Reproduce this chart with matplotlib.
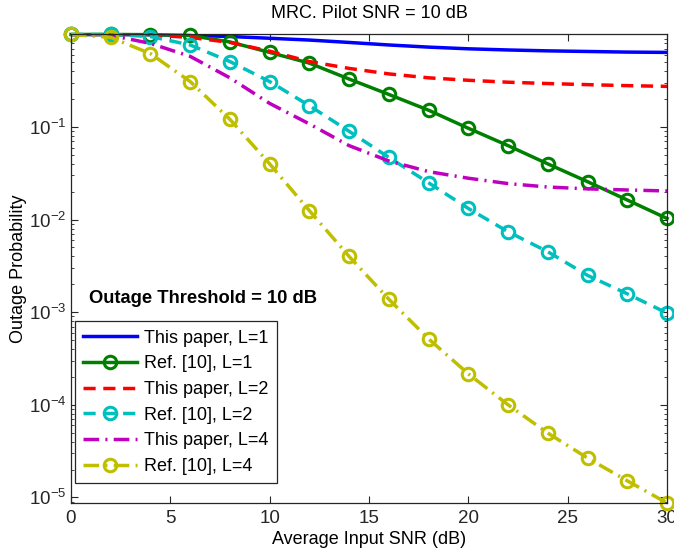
import matplotlib
matplotlib.use("Agg")
import matplotlib.pyplot as plt
import numpy as np
from matplotlib.ticker import FixedLocator, LogLocator, NullFormatter

plt.rcParams['font.family'] = ['Liberation Sans', 'DejaVu Sans']
plt.rcParams['mathtext.default'] = 'regular'

# ---- data ----
snr = [0, 2, 4, 6, 8, 10, 12, 14, 16, 18, 20, 22, 24, 26, 28, 30]

this_L1 = [1.0, 1.0, 0.995, 0.98, 0.95, 0.91, 0.87, 0.82, 0.77, 0.73, 0.70, 0.68, 0.665, 0.655, 0.645, 0.64]
ref_L1 = [1.0, 1.0, 0.995, 0.975, 0.83, 0.64, 0.49, 0.33, 0.225, 0.152, 0.097, 0.063, 0.040, 0.0257, 0.0163, 0.0103]
this_L2 = [1.0, 1.0, 0.985, 0.93, 0.82, 0.66, 0.51, 0.43, 0.375, 0.34, 0.32, 0.305, 0.295, 0.287, 0.28, 0.275]
ref_L2 = [1.0, 1.0, 0.95, 0.77, 0.51, 0.31, 0.17, 0.09, 0.047, 0.025, 0.0132, 0.0074, 0.0045, 0.0025, 0.00158, 0.00098]
this_L4 = [1.0, 0.98, 0.80, 0.58, 0.34, 0.18, 0.108, 0.063, 0.043, 0.033, 0.028, 0.0245, 0.0225, 0.0215, 0.0209, 0.0204]
ref_L4 = [1.0, 0.93, 0.62, 0.31, 0.121, 0.040, 0.0125, 0.0040, 0.00138, 0.000515, 0.000216, 0.0001, 4.95e-5, 2.66e-5, 1.51e-5, 8.7e-6]

labels = ['This paper, L=1', 'Ref. [10], L=1', 'This paper, L=2',
          'Ref. [10], L=2', 'This paper, L=4', 'Ref. [10], L=4']
xticks = [0, 5, 10, 15, 20, 25, 30]
yticks = [1e-5, 1e-4, 1e-3, 1e-2, 1e-1]
ytick_labels = ['$10^{-5}$', '$10^{-4}$', '$10^{-3}$', '$10^{-2}$', '$10^{-1}$']

fig = plt.figure(figsize=(6.74, 5.54), dpi=100)
ax = fig.add_axes([0.1053, 0.0921, 0.8843, 0.8457])

lw = 2.5
ms = 9
mew = 2.2
dash = (0, (3.5, 2.2))
dashdot = (0, (4.5, 1.8, 0.6, 1.8))

ax.plot(snr, this_L1, color=(0, 0, 1), lw=lw, ls='-', label=labels[0])
ax.plot(snr, ref_L1, color=(0, 0.5, 0), lw=lw, ls='-', marker='o', ms=ms, mew=mew,
        mfc='none', label=labels[1], clip_on=False)
ax.plot(snr, this_L2, color=(1, 0, 0), lw=lw, ls=dash, label=labels[2])
ax.plot(snr, ref_L2, color=(0, 0.75, 0.75), lw=lw, ls=dash, marker='o', ms=ms, mew=mew,
        mfc='none', label=labels[3], clip_on=False)
ax.plot(snr, this_L4, color=(0.75, 0, 0.75), lw=lw, ls=dashdot, label=labels[4])
ax.plot(snr, ref_L4, color=(0.75, 0.75, 0), lw=lw, ls=dashdot, marker='o', ms=ms, mew=mew,
        mfc='none', label=labels[5], clip_on=False)

ax.set_yscale('log')
ax.set_xlim(0, 30)
ax.set_ylim(8.7e-6, 1.0)
ax.set_xticks(xticks)
ax.set_xticklabels([str(v) for v in xticks])
ax.yaxis.set_major_locator(FixedLocator(yticks))
ax.set_yticklabels(ytick_labels)
ax.yaxis.set_minor_locator(LogLocator(base=10, subs=np.arange(2, 10), numticks=20))
ax.yaxis.set_minor_formatter(NullFormatter())

ax.tick_params(which='both', direction='in', top=True, right=True, labelsize=13.5, colors='#262626')
ax.tick_params(axis='x', which='major', pad=5)
ax.tick_params(which='major', length=5, width=0.8)
ax.tick_params(which='minor', length=2.5, width=0.6)
for s in ax.spines.values():
    s.set_color('#262626')
    s.set_linewidth(0.9)

ax.set_xlabel('Average Input SNR (dB)', fontsize=13, labelpad=3)
ax.set_ylabel('Outage Probability', fontsize=13, labelpad=1)
ax.set_title('MRC. Pilot SNR = 10 dB', fontsize=13, pad=12)

ax.text(0.9, 1.42e-3, 'Outage Threshold = 10 dB', fontsize=13.2, fontweight='bold',
        ha='left', va='center')

leg = ax.legend(loc='lower left', bbox_to_anchor=(0.0067, 0.0427), borderaxespad=0,
                fontsize=13, numpoints=1, handlelength=3.0,
                framealpha=1, fancybox=False, edgecolor='#262626',
                labelspacing=0.48, borderpad=0.45, handletextpad=0.4)
leg.get_frame().set_linewidth(0.9)

fig.savefig('out.png', dpi=100)
